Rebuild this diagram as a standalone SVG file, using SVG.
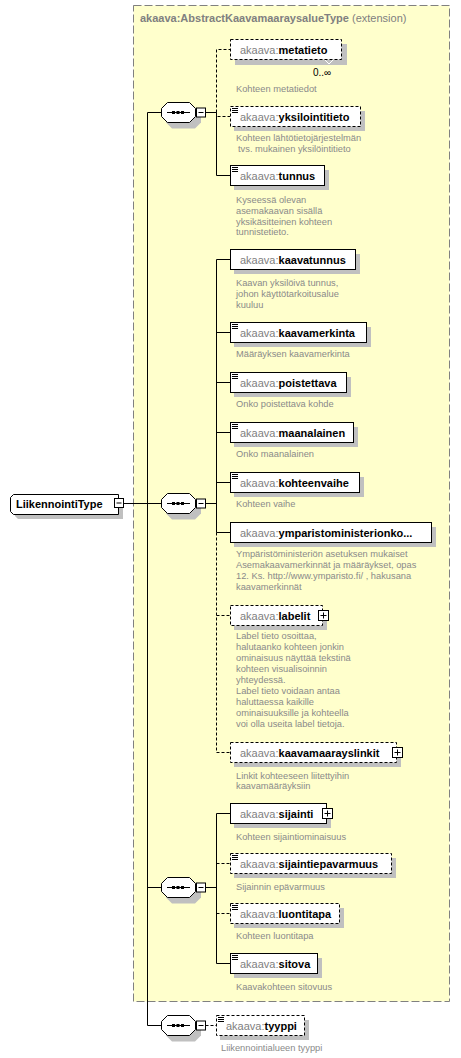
<svg xmlns="http://www.w3.org/2000/svg" xmlns:xlink="http://www.w3.org/1999/xlink" width="461" height="1058" viewBox="0 0 461 1058">
<style>
.sh{fill:#c0c0c0}
.el{fill:#fff;stroke:#000;stroke-width:1}
.opt{stroke-dasharray:3,2}
.ln{stroke:#000;stroke-width:1;fill:none}
.t{font-family:"Liberation Sans",Arial,sans-serif;font-size:11px}
.ns{fill:#808080}
.nm{font-weight:bold;fill:#000}
.d{font-family:"Liberation Sans",Arial,sans-serif;font-size:9.3px;fill:#8a8a8a}
.ico{stroke:#000;stroke-width:1}
</style>
<defs>
<g id="seq">
<path class="sh" d="M172,-5 H195 L201,1 V10 L195,16 H172 L166,10 V1 Z"/>
<path class="el" d="M167.5,-10 H189.5 L195.5,-4 V4 L189.5,10 H167.5 L161.5,4 V-4 Z"/>
<path class="ln" d="M167,0 H190"/>
<rect x="172" y="-1.5" width="3" height="3" fill="#000"/>
<rect x="176.5" y="-1.5" width="3" height="3" fill="#000"/>
<rect x="181" y="-1.5" width="3" height="3" fill="#000"/>
<rect class="el" x="196.5" y="-4.5" width="9" height="9"/>
<path class="ln" d="M198.5,0 H203.5"/>
</g>
<path id="ic" class="ico" d="M0,0.5 H6 M0,2.5 H6 M0,4.5 H6"/>
<g id="plus">
<rect class="el" x="-4.5" y="-4.5" width="10" height="10"/>
<path class="ln" d="M-2.5,0.5 H3.5 M0.5,-2.5 V3.5"/>
</g>
</defs>

<g id="extension">
<rect x="133.5" y="5.5" width="316" height="996" fill="#ffffcc" stroke="#808080" stroke-dasharray="8,3"/>
<text class="t" x="140" y="22" fill="#808080"><tspan font-weight="bold">akaava:AbstractKaavamaaraysalueType</tspan> (extension)</text>
</g>

<g id="connectors">
<path class="ln" d="M124,503.5 H147.5 M147.5,112.5 V1025.5 M147.5,112.5 H161.5 M147.5,503.5 H161.5 M147.5,887.5 H161.5 M147.5,1025.5 H161.5"/>
<path class="ln" d="M205.5,112.5 H216.5 M216.5,112.5 V175.5 H230"/>
<path class="ln opt" d="M216.5,112.5 V49.5 H230 M216.5,112.5 V116.5 H230"/>
<path class="ln" d="M205.5,503.5 H216.5 M216.5,259.5 V532.5 M216.5,259.5 H230 M216.5,332.5 H230 M216.5,382.5 H230 M216.5,432.5 H230 M216.5,482.5 H230 M216.5,532.5 H230"/>
<path class="ln opt" d="M216.5,532.5 V752.5 M216.5,615.5 H230 M216.5,752.5 H230"/>
<path class="ln" d="M205.5,887.5 H216.5 M216.5,813.5 V963.5 M216.5,813.5 H230 M216.5,963.5 H230"/>
<path class="ln opt" d="M216.5,863.5 H230 M216.5,913.5 H230"/>
<path class="ln opt" d="M205.5,1025.5 H216"/>
</g>

<g id="LiikennointiType">
<path class="sh" d="M18,499 H123 V519 H18 L15,516 V502 Z"/>
<path class="el" d="M13.5,494.5 H118.5 V514.5 H13.5 L10.5,511.5 V497.5 Z"/>
<text class="t nm" x="16" y="508">LiikennointiType</text>
<rect class="el" x="114.5" y="498.5" width="9" height="9"/>
<path class="ln" d="M116.5,503 H121.5"/>
</g>

<g id="seq1"><use xlink:href="#seq" transform="translate(0,112.5)"/></g>
<g id="seq2"><use xlink:href="#seq" transform="translate(0,503.5)"/></g>
<g id="seq3"><use xlink:href="#seq" transform="translate(0,887.5)"/></g>
<g id="seq4"><use xlink:href="#seq" transform="translate(0,1025.5)"/></g>

<g id="metatieto">
<rect class="sh" x="235" y="44" width="112" height="21"/>
<path d="M325,60 L329,64 L333,60" fill="none" stroke="#fff"/>
<rect class="el opt" x="230.5" y="39.5" width="111" height="20"/>
<text class="t" x="240" y="54"><tspan class="ns">akaava:</tspan><tspan class="nm">metatieto</tspan></text>
<text x="313" y="76" font-family="Liberation Sans,Arial,sans-serif" font-size="10" fill="#000">0..∞</text>
<text class="d" x="236" y="92">Kohteen metatiedot</text>
</g>

<g id="yksilointitieto">
<rect class="sh" x="234" y="111" width="131" height="20"/>
<rect class="el opt" x="230.5" y="106.5" width="130" height="20"/>
<use xlink:href="#ic" x="232" y="108"/>
<text class="t" x="240" y="121"><tspan class="ns">akaava:</tspan><tspan class="nm">yksilointitieto</tspan></text>
<text class="d" x="236" y="141">Kohteen lähtötietojärjestelmän</text>
<text class="d" x="238" y="151.5">tvs. mukainen yksilöintitieto</text>
</g>

<g id="tunnus">
<rect class="sh" x="234" y="170" width="95" height="20"/>
<rect class="el" x="230.5" y="165.5" width="94" height="20"/>
<use xlink:href="#ic" x="232" y="167"/>
<text class="t" x="240" y="180"><tspan class="ns">akaava:</tspan><tspan class="nm">tunnus</tspan></text>
<text class="d" x="236" y="202.5">Kyseessä olevan</text>
<text class="d" x="236" y="213.5">asemakaavan sisällä</text>
<text class="d" x="236" y="224.5">yksikäsitteinen kohteen</text>
<text class="d" x="236" y="235">tunnistetieto.</text>
</g>

<g id="kaavatunnus">
<rect class="sh" x="234" y="254" width="126" height="20"/>
<rect class="el" x="230.5" y="249.5" width="125" height="20"/>
<text class="t" x="240" y="264"><tspan class="ns">akaava:</tspan><tspan class="nm">kaavatunnus</tspan></text>
<text class="d" x="236" y="286">Kaavan yksilöivä tunnus,</text>
<text class="d" x="236" y="297">johon käyttötarkoitusalue</text>
<text class="d" x="236" y="307.5">kuuluu</text>
</g>

<g id="kaavamerkinta">
<rect class="sh" x="234" y="327" width="137" height="20"/>
<rect class="el" x="230.5" y="322.5" width="136" height="20"/>
<use xlink:href="#ic" x="232" y="324"/>
<text class="t" x="240" y="337"><tspan class="ns">akaava:</tspan><tspan class="nm">kaavamerkinta</tspan></text>
<text class="d" x="236" y="357">Määräyksen kaavamerkinta</text>
</g>

<g id="poistettava">
<rect class="sh" x="234" y="377" width="117" height="20"/>
<rect class="el" x="230.5" y="372.5" width="116" height="20"/>
<use xlink:href="#ic" x="232" y="374"/>
<text class="t" x="240" y="387"><tspan class="ns">akaava:</tspan><tspan class="nm">poistettava</tspan></text>
<text class="d" x="236" y="407">Onko poistettava kohde</text>
</g>

<g id="maanalainen">
<rect class="sh" x="234" y="427" width="124" height="20"/>
<rect class="el" x="230.5" y="422.5" width="123" height="20"/>
<use xlink:href="#ic" x="232" y="424"/>
<text class="t" x="240" y="437"><tspan class="ns">akaava:</tspan><tspan class="nm">maanalainen</tspan></text>
<text class="d" x="236" y="457">Onko maanalainen</text>
</g>

<g id="kohteenvaihe">
<rect class="sh" x="234" y="477" width="130" height="20"/>
<rect class="el" x="230.5" y="472.5" width="129" height="20"/>
<use xlink:href="#ic" x="232" y="474"/>
<text class="t" x="240" y="487"><tspan class="ns">akaava:</tspan><tspan class="nm">kohteenvaihe</tspan></text>
<text class="d" x="236" y="507">Kohteen vaihe</text>
</g>

<g id="ymparistoministerionko">
<rect class="sh" x="234" y="527" width="202" height="20"/>
<rect class="el" x="230.5" y="522.5" width="201" height="20"/>
<text class="t" x="240" y="537"><tspan class="ns">akaava:</tspan><tspan class="nm">ymparistoministerionko...</tspan></text>
<text class="d" x="236" y="557">Ympäristöministeriön asetuksen mukaiset</text>
<text class="d" x="236" y="568">Asemakaavamerkinnät ja määräykset, opas</text>
<text class="d" x="236" y="579">12. Ks. http://www.ymparisto.fi/ , hakusana</text>
<text class="d" x="236" y="590">kaavamerkinnät</text>
</g>

<g id="labelit">
<rect class="sh" x="234" y="610" width="93" height="20"/>
<rect class="el opt" x="230.5" y="605.5" width="92" height="20"/>
<text class="t" x="240" y="620"><tspan class="ns">akaava:</tspan><tspan class="nm">labelit</tspan></text>
<use xlink:href="#plus" x="323" y="615"/>
<text class="d" x="236" y="639">Label tieto osoittaa,</text>
<text class="d" x="236" y="650">halutaanko kohteen jonkin</text>
<text class="d" x="236" y="661">ominaisuus näyttää tekstinä</text>
<text class="d" x="236" y="672">kohteen visualisoinnin</text>
<text class="d" x="236" y="683">yhteydessä.</text>
<text class="d" x="236" y="694">Label tieto voidaan antaa</text>
<text class="d" x="236" y="705">haluttaessa kaikille</text>
<text class="d" x="236" y="716">ominaisuuksille ja kohteella</text>
<text class="d" x="236" y="727">voi olla useita label tietoja.</text>
</g>

<g id="kaavamaarayslinkit">
<rect class="sh" x="234" y="747" width="167" height="20"/>
<rect class="el opt" x="230.5" y="742.5" width="166" height="20"/>
<text class="t" x="240" y="757"><tspan class="ns">akaava:</tspan><tspan class="nm">kaavamaarayslinkit</tspan></text>
<use xlink:href="#plus" x="397" y="752"/>
<text class="d" x="236" y="778.5">Linkit kohteeseen liitettyihin</text>
<text class="d" x="236" y="789">kaavamääräyksiin</text>
</g>

<g id="sijainti">
<rect class="sh" x="234" y="808" width="97" height="20"/>
<rect class="el" x="230.5" y="803.5" width="96" height="20"/>
<text class="t" x="240" y="818"><tspan class="ns">akaava:</tspan><tspan class="nm">sijainti</tspan></text>
<use xlink:href="#plus" x="327" y="813"/>
<text class="d" x="236" y="839.5">Kohteen sijaintiominaisuus</text>
</g>

<g id="sijaintiepavarmuus">
<rect class="sh" x="234" y="858" width="162" height="20"/>
<rect class="el opt" x="230.5" y="853.5" width="161" height="20"/>
<use xlink:href="#ic" x="232" y="855"/>
<text class="t" x="240" y="868"><tspan class="ns">akaava:</tspan><tspan class="nm">sijaintiepavarmuus</tspan></text>
<text class="d" x="236" y="889.5">Sijainnin epävarmuus</text>
</g>

<g id="luontitapa">
<rect class="sh" x="234" y="908" width="110" height="20"/>
<rect class="el opt" x="230.5" y="903.5" width="109" height="20"/>
<use xlink:href="#ic" x="232" y="905"/>
<text class="t" x="240" y="918"><tspan class="ns">akaava:</tspan><tspan class="nm">luontitapa</tspan></text>
<text class="d" x="236" y="939">Kohteen luontitapa</text>
</g>

<g id="sitova">
<rect class="sh" x="234" y="958" width="88" height="20"/>
<rect class="el" x="230.5" y="953.5" width="87" height="20"/>
<use xlink:href="#ic" x="232" y="955"/>
<text class="t" x="240" y="968"><tspan class="ns">akaava:</tspan><tspan class="nm">sitova</tspan></text>
<text class="d" x="236" y="989.5">Kaavakohteen sitovuus</text>
</g>

<g id="tyyppi">
<rect class="sh" x="220" y="1020" width="89" height="20"/>
<rect class="el opt" x="216.5" y="1015.5" width="88" height="20"/>
<use xlink:href="#ic" x="218" y="1017"/>
<text class="t" x="226" y="1030"><tspan class="ns">akaava:</tspan><tspan class="nm">tyyppi</tspan></text>
<text class="d" x="221" y="1051">Liikennointialueen tyyppi</text>
</g>
</svg>
